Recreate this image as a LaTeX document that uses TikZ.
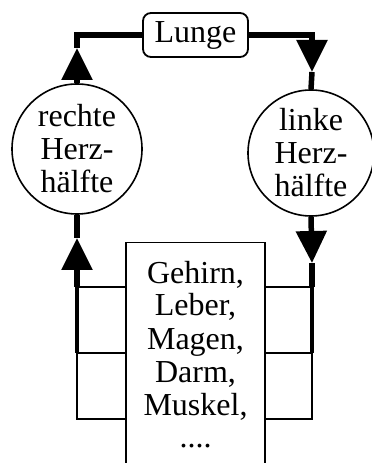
\documentclass[tikz,border=0pt]{standalone}
\usepackage{fontspec}
\setmainfont{Liberation Serif}
\usetikzlibrary{arrows.meta}
\begin{document}
\begin{tikzpicture}[x=1pt,y=1pt,
  every node/.style={font=\fontsize{32}{33}\selectfont},
  heart/.style={circle,draw,line width=1.6pt,inner sep=0pt,align=center},
  organbox/.style={rectangle,draw,line width=1.5pt,minimum width=139pt,minimum height=260pt,anchor=north,inner sep=0pt},
  lungbox/.style={rectangle,rounded corners=8pt,draw,line width=1.8pt,minimum width=105pt,minimum height=44pt,inner sep=0pt},
  flow/.style={line width=5.5pt},
  midflow/.style={line width=3.3pt},
  thinflow/.style={line width=1.8pt},
  tip/.style={-{Triangle[width=30pt,length=32pt]}}
]
\useasboundingbox (0,0) rectangle (372,463);
\node[lungbox] (lunge) at (195.5,428) {Lunge};
\node[heart,minimum size=130pt] (rh) at (77,314) {rechte\\Herz-\\hälfte};
\node[heart,minimum size=126pt] (lh) at (311,310) {linke\\Herz-\\hälfte};
\node[organbox] (organs) at (195.5,221) {};
\node[anchor=base,align=center] (organtext) at (195.5,15) {Gehirn,\\Leber,\\Magen,\\Darm,\\Muskel,\\....};
\coordinate (ltip) at (77,415);
\coordinate (rtip) at (312,391);
\coordinate (lbtip) at (77,225);
\coordinate (rbtip) at (312,200);
\coordinate (l1) at (77,176);
\coordinate (l2) at (77,110);
\coordinate (l3) at (77,44);
\coordinate (r1) at (312,176);
\coordinate (r2) at (312,110);
\coordinate (r3) at (312,44);
% top loop
\draw[flow,tip] (rh.north) -- (ltip);
\draw[flow] (ltip) |- (lunge.west);
\draw[flow,tip] (lunge.east) -| (rtip);
\draw[flow] (rtip) -- (lh.north);
% left return
\draw[flow,tip] (l1) -- (lbtip);
\draw[flow] (lbtip) -- (rh.south);
\draw[midflow] (l1) -- (l2);
\draw[thinflow] (organs.west |- l3) -| (l2);
\draw[thinflow] (organs.west |- l2) -- (l2);
\draw[thinflow] (organs.west |- l1) -- (l1);
% right supply
\draw[flow,tip] (lh.south) -- (rbtip);
\draw[flow] (rbtip) -- (r1);
\draw[midflow] (r1) -- (r2);
\draw[thinflow] (organs.east |- r3) -| (r2);
\draw[thinflow] (organs.east |- r2) -- (r2);
\draw[thinflow] (organs.east |- r1) -- (r1);
\end{tikzpicture}
\end{document}
